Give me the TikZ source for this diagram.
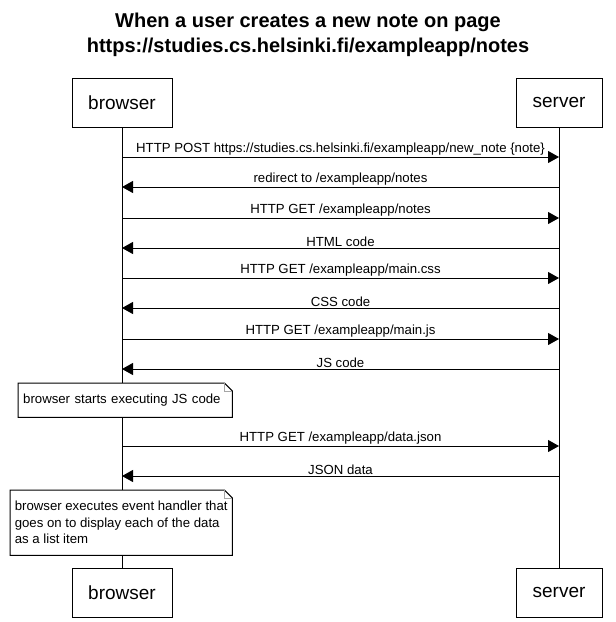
\documentclass[tikz,border=0pt]{standalone}
\usepackage{fontspec}
\setmainfont{Liberation Sans}
\usetikzlibrary{arrows.meta,positioning,calc}
\tikzset{
  actor/.style={draw,rectangle,fill=white,line width=1pt,minimum height=49pt,inner sep=0pt,font=\fontsize{19}{22}\selectfont},
  life/.style={line width=1pt},
  msg/.style={-{Triangle[length=11pt,width=12pt]},line width=1pt},
  lbl/.style={font=\fontsize{13.2}{15}\selectfont,inner sep=0pt,above=0.8pt},
  notetxt/.style={anchor=north west,inner ysep=0pt,align=left,font=\fontsize{13.2}{16.5}\selectfont},
  notedraw/.style={draw,line width=1pt},
  fold/.style={draw=gray!70,line width=0.8pt}
}

\begin{document}
\begin{tikzpicture}[x=1pt,y=-1pt]
  \useasboundingbox (0,0) rectangle (616,622);
  % Title
  \node[font=\fontsize{20}{25}\selectfont\bfseries,align=center] (title) at (308,34.5)
    {When a user creates a new note on page\\https://studies.cs.helsinki.fi/exampleapp/notes};

  % Participants
  \node[actor,minimum width=100pt] (bTop) at (122,102.5) {browser};
  \node[actor,minimum width=86pt] (sTop) at (559,102.5) {server};
  \node[actor,minimum width=100pt] (bBot) at (122,592.5) {browser};
  \node[actor,minimum width=86pt] (sBot) at (559,592.5) {server};

  % Notes
  \node[notetxt,minimum height=34pt,text width=204pt,inner xsep=5pt] (note1) at (18,383)
    {browser starts executing JS code};
  \node[notetxt,minimum height=65pt,minimum width=222pt,inner xsep=0pt] (note2) at (10,490)
    {browser executes event handler that\\goes on to display each of the data\\as a list item};
  \foreach \n in {note1,note2} {
    \draw[notedraw] (\n.north west) -- ($(\n.north east)+(-8,0)$) -- ($(\n.north east)+(0,8)$)
      -- (\n.south east) -- (\n.south west) -- cycle;
    \draw[fold] ($(\n.north east)+(-8,0)$) |- ($(\n.north east)+(0,8)$);
  }

  % Lifelines
  \draw[life] (bTop.south) -- (bTop.south |- note1.north);
  \draw[life] (bTop.south |- note1.south) -- (bTop.south |- note2.north);
  \draw[life] (bTop.south |- note2.south) -- (bBot.north);
  \draw[life] (sTop.south) -- (sBot.north);

  % Message points
  \foreach \y [count=\i] in {157,187,218,248,278,308,339,369,446,476} {
    \coordinate (b\i) at (122,\y);
    \coordinate (s\i) at (559,\y);
  }

  % Messages
  \draw[msg] (b1) -- (s1) node[lbl,midway] {HTTP POST https://studies.cs.helsinki.fi/exampleapp/new\_note \{note\}};
  \draw[msg] (s2) -- (b2) node[lbl,midway] {redirect to /exampleapp/notes};
  \draw[msg] (b3) -- (s3) node[lbl,midway] {HTTP GET /exampleapp/notes};
  \draw[msg] (s4) -- (b4) node[lbl,midway] {HTML code};
  \draw[msg] (b5) -- (s5) node[lbl,midway] {HTTP GET /exampleapp/main.css};
  \draw[msg] (s6) -- (b6) node[lbl,midway] {CSS code};
  \draw[msg] (b7) -- (s7) node[lbl,midway] {HTTP GET /exampleapp/main.js};
  \draw[msg] (s8) -- (b8) node[lbl,midway] {JS code};
  \draw[msg] (b9) -- (s9) node[lbl,midway] {HTTP GET /exampleapp/data.json};
  \draw[msg] (s10) -- (b10) node[lbl,midway] {JSON data};
\end{tikzpicture}
\end{document}
